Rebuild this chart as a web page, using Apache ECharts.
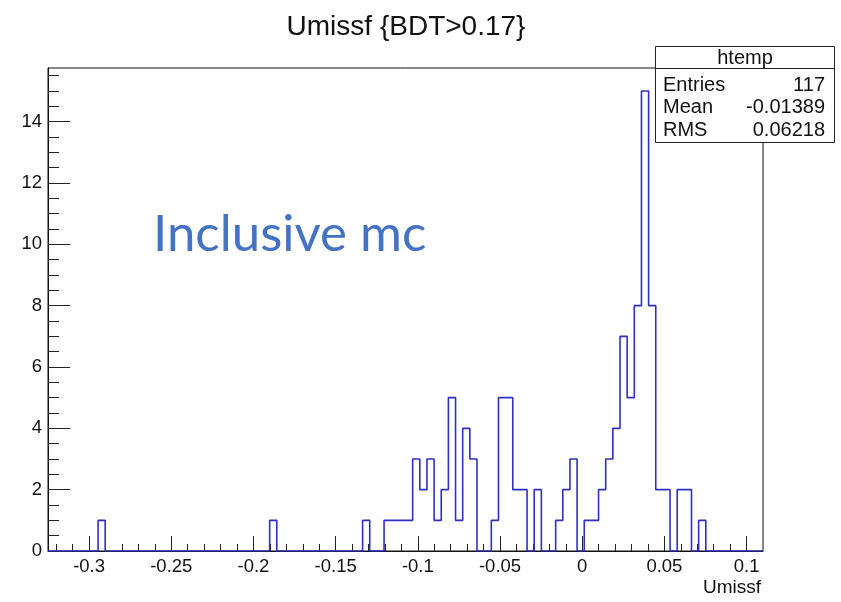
<!DOCTYPE html>
<html>
<head>
<meta charset="utf-8">
<script src="https://cdn.jsdelivr.net/npm/echarts@6/dist/echarts.min.js"></script>
<style>
html,body{margin:0;padding:0;background:#fff;}
#chart{width:841px;height:602px;}
</style>
</head>
<body>
<div id="chart"></div>
<script>
// ---- data ----
const X_MIN = -0.325;
const X_MAX = 0.11;
const Y_MAX = 15.75;
// bin contents (100 bins between X_MIN and X_MAX)
const counts = [
  0,0,0,0,0,0,0,1,0,0,   // 0-9
  0,0,0,0,0,0,0,0,0,0,   // 10-19
  0,0,0,0,0,0,0,0,0,0,   // 20-29
  0,1,0,0,0,0,0,0,0,0,   // 30-39
  0,0,0,0,1,0,0,1,1,1,   // 40-49
  1,3,2,3,1,2,5,1,4,3,   // 50-59
  0,0,1,5,5,2,2,0,2,0,   // 60-69
  0,1,2,3,0,1,1,2,3,4,   // 70-79
  7,5,8,15,8,2,2,0,2,2,  // 80-89
  0,1,0,0,0,0,0,0,0,0    // 90-99
];
const xMajorTicks = [-0.3,-0.25,-0.2,-0.15,-0.1,-0.05,0,0.05,0.1];
const xMinorTicks = [-0.32,-0.31,-0.29,-0.28,-0.27,-0.26,-0.24,-0.23,-0.22,-0.21,
  -0.19,-0.18,-0.17,-0.16,-0.14,-0.13,-0.12,-0.11,-0.09,-0.08,-0.07,-0.06,
  -0.04,-0.03,-0.02,-0.01,0.01,0.02,0.03,0.04,0.06,0.07,0.08,0.09];
const yMajorTicks = [0,2,4,6,8,10,12,14];
const yMinorTicks = [0.5,1,1.5,2.5,3,3.5,4.5,5,5.5,6.5,7,7.5,8.5,9,9.5,10.5,11,11.5,
  12.5,13,13.5,14.5,15,15.5];
const titleText = 'Umissf {BDT>0.17}';
const xTitle = 'Umissf';
const statsName = 'htemp';
const statsLabels = ['Entries','Mean','RMS'];
const statsValues = ['117','-0.01389','0.06218'];
const annotation = 'Inclusive mc';

// ---- build ----
const nBins = counts.length;
const binW = (X_MAX - X_MIN) / nBins;
const stepData = [];
for (let i = 0; i < nBins; i++) stepData.push([X_MIN + i * binW, counts[i]]);
stepData.push([X_MAX, counts[nBins - 1]]);

const FONT = 'Liberation Sans, Arial, Helvetica, sans-serif';
const tickColor = '#222';

const chart = echarts.init(document.getElementById('chart'), null, {renderer: 'canvas'});
const L = 48, R = 78, T = 68, B = 51;
chart.setOption({
  animation: false,
  backgroundColor: '#fff',
  grid: {left: L, right: R, top: T, bottom: B, show: true, borderColor: '#111', borderWidth: 1, backgroundColor: 'transparent'},
  xAxis: [{
    type: 'value', min: X_MIN, max: X_MAX, position: 'bottom',
    axisLine: {show: true, onZero: false, lineStyle: {color: '#111', width: 1}},
    axisTick: {show: true, inside: true, length: 15, customValues: xMajorTicks, lineStyle: {color: tickColor, width: 1}},
    axisLabel: {show: true, customValues: xMajorTicks, margin: 6, color: '#111', fontFamily: FONT, fontSize: 18.5,
      formatter: v => String(+v.toFixed(3))},
    splitLine: {show: false}
  }, {
    type: 'value', min: X_MIN, max: X_MAX, position: 'bottom',
    axisLine: {show: false, onZero: false},
    axisTick: {show: true, inside: true, length: 7, customValues: xMinorTicks, lineStyle: {color: tickColor, width: 1}},
    axisLabel: {show: false},
    splitLine: {show: false}
  }],
  yAxis: [{
    type: 'value', min: 0, max: Y_MAX, position: 'left',
    axisLine: {show: true, onZero: false, lineStyle: {color: '#111', width: 1}},
    axisTick: {show: true, inside: true, length: 22, customValues: yMajorTicks, lineStyle: {color: tickColor, width: 1}},
    axisLabel: {show: true, customValues: yMajorTicks, margin: 6, color: '#111', fontFamily: FONT, fontSize: 18.5},
    splitLine: {show: false}
  }, {
    type: 'value', min: 0, max: Y_MAX, position: 'left',
    axisLine: {show: false, onZero: false},
    axisTick: {show: true, inside: true, length: 11, customValues: yMinorTicks, lineStyle: {color: tickColor, width: 1}},
    axisLabel: {show: false},
    splitLine: {show: false}
  }],
  series: [{
    type: 'line', xAxisIndex: 0, yAxisIndex: 0, step: 'end', symbol: 'none',
    data: stepData,
    lineStyle: {color: '#2f2fc4', width: 1.6},
    clip: true, z: 3
  }],
  graphic: [
    {type: 'text', x: 406, y: 27, z: 10,
      style: {text: titleText, fontFamily: FONT, fontSize: 28, fill: '#111', textAlign: 'center', textVerticalAlign: 'middle'}},
    {type: 'text', x: 761, y: 588, z: 10,
      style: {text: xTitle, fontFamily: FONT, fontSize: 19, fill: '#111', textAlign: 'right', textVerticalAlign: 'middle'}},
    {type: 'text', x: 153, y: 235, z: 10,
      style: {text: annotation, fontFamily: 'Lato, Open Sans, sans-serif', fontSize: 51, fill: '#4472C4', textAlign: 'left', textVerticalAlign: 'middle'}},
    {type: 'group', z: 20, children: [
      {type: 'rect', shape: {x: 655.5, y: 46.5, width: 179, height: 96}, style: {fill: '#fff', stroke: '#222', lineWidth: 1}},
      {type: 'line', shape: {x1: 655.5, y1: 68.5, x2: 834.5, y2: 68.5}, style: {stroke: '#222', lineWidth: 1}},
      {type: 'text', x: 745, y: 58, style: {text: statsName, fontFamily: FONT, fontSize: 20, fill: '#111', textAlign: 'center', textVerticalAlign: 'middle'}},
      {type: 'text', x: 663, y: 85, style: {text: statsLabels[0], fontFamily: FONT, fontSize: 20, fill: '#111', textAlign: 'left', textVerticalAlign: 'middle'}},
      {type: 'text', x: 663, y: 107, style: {text: statsLabels[1], fontFamily: FONT, fontSize: 20, fill: '#111', textAlign: 'left', textVerticalAlign: 'middle'}},
      {type: 'text', x: 663, y: 130, style: {text: statsLabels[2], fontFamily: FONT, fontSize: 20, fill: '#111', textAlign: 'left', textVerticalAlign: 'middle'}},
      {type: 'text', x: 825, y: 85, style: {text: statsValues[0], fontFamily: FONT, fontSize: 20, fill: '#111', textAlign: 'right', textVerticalAlign: 'middle'}},
      {type: 'text', x: 825, y: 107, style: {text: statsValues[1], fontFamily: FONT, fontSize: 20, fill: '#111', textAlign: 'right', textVerticalAlign: 'middle'}},
      {type: 'text', x: 825, y: 130, style: {text: statsValues[2], fontFamily: FONT, fontSize: 20, fill: '#111', textAlign: 'right', textVerticalAlign: 'middle'}}
    ]}
  ]
});
</script>
</body>
</html>
